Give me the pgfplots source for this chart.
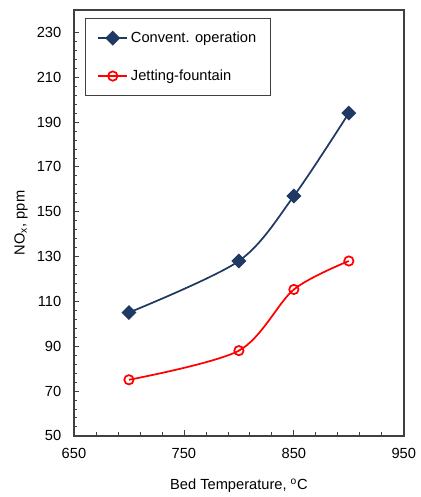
\documentclass[border=0pt]{standalone}
\usepackage{pgfplots}
\pgfplotsset{compat=1.18}
\usepackage{fontspec}
\setmainfont{Liberation Sans}
\definecolor{navy}{HTML}{1F3864}
\definecolor{axgray}{HTML}{404040}
\begin{document}
\begin{tikzpicture}
\begin{axis}[
  scale only axis, width=247.5pt, height=319.5pt,
  xmin=650, xmax=950, ymin=50, ymax=240,
  xtick={650,750,850,950}, ytick={50,70,...,230},
  minor x tick num=4, minor y tick num=4,
  xtick pos=left, ytick pos=left,
  tick align=inside,
  major tick length=4pt, minor tick length=2.5pt,
  every tick/.style={axgray, line width=0.6pt},
  axis line style={axgray, line width=1.4pt},
  tick label style={font=\fontsize{11}{13}\selectfont},
  xticklabel shift=6pt, yticklabel shift=6pt,
  /pgf/number format/assume math mode=true,
  /pgf/number format/1000 sep={},
  label style={font=\fontsize{11}{13}\selectfont},
  xlabel={Bed Temperature, \textsuperscript{o}C},
  ylabel={NO\textsubscript{x}, ppm},
  xlabel style={yshift=-8pt},
  ylabel style={yshift=0pt},
  legend style={at={(0.033,0.981)}, anchor=north west, draw=axgray, line width=0.6pt,
    font=\fontsize{11}{13}\selectfont, row sep=15pt, inner xsep=9pt, inner ysep=8pt},
  legend image code/.code={
    \draw[mark repeat=2, mark phase=2] plot coordinates {(0pt,0pt) (11pt,0pt) (22pt,0pt)};},
  legend cell align=left,
  clip=false,
]
\addplot[navy, line width=1.3pt, smooth, tension=0.5, mark=square*, mark size=3.3pt, mark options={solid, fill=navy, rotate=45}]
  coordinates {(700,105) (800,128) (850,157) (900,194)};
\addlegendentry{Convent. operation}
\addplot[red, line width=1.3pt, smooth, tension=0.5, mark=o, mark size=3.5pt, mark options={solid, line width=1.3pt}]
  coordinates {(700,75) (800,88) (850,115.3) (900,128)};
\addlegendentry{Jetting-fountain}
\coordinate (bl) at (rel axis cs:0,0);
\coordinate (tr) at (rel axis cs:1,1);
\end{axis}
\path ([shift={(-55.5pt,-45.75pt)}]bl) rectangle ([shift={(9.75pt,7.5pt)}]tr);
\end{tikzpicture}
\end{document}
